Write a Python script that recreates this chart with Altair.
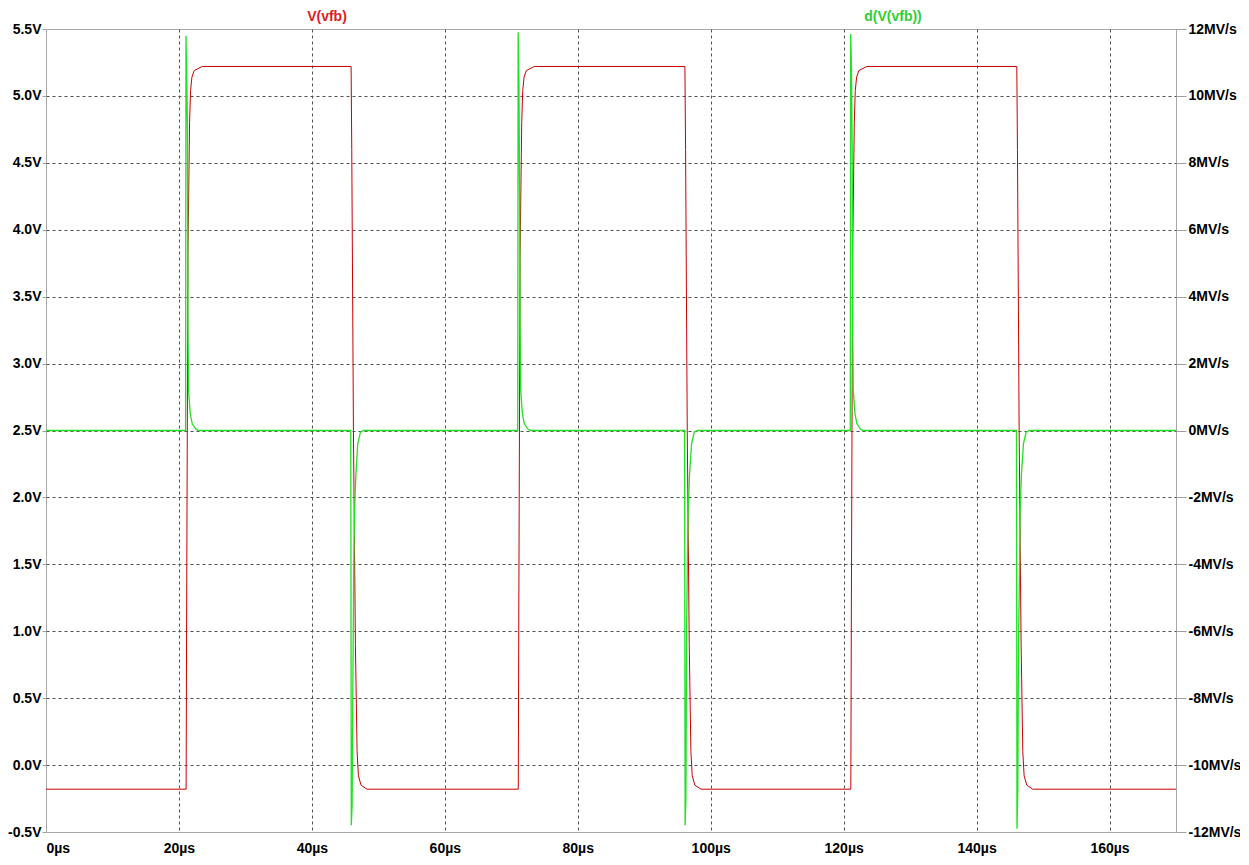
import altair as alt
import pandas as pd

# ---- data ----
red_t = [0.0,
         21.08, 21.15, 21.35, 21.60, 21.75, 21.95, 22.30, 23.50,
         45.90, 46.00, 46.25, 46.55, 46.80, 47.00, 47.40, 48.30,
         71.05, 71.12, 71.32, 71.57, 71.72, 71.92, 72.27, 73.47,
         96.12, 96.22, 96.47, 96.77, 97.02, 97.22, 97.62, 98.52,
         121.08, 121.15, 121.35, 121.60, 121.75, 121.95, 122.30, 123.50,
         146.05, 146.15, 146.40, 146.70, 146.95, 147.15, 147.55, 148.45,
         170.0]
red_v = [-0.18,
         -0.18, 1.0, 3.8, 4.8, 5.04, 5.14, 5.19, 5.22,
         5.22, 4.6, 2.5, 0.9, 0.1, -0.08, -0.15, -0.18,
         -0.18, 1.0, 3.8, 4.8, 5.04, 5.14, 5.19, 5.22,
         5.22, 4.6, 2.5, 0.9, 0.1, -0.08, -0.15, -0.18,
         -0.18, 1.0, 3.8, 4.8, 5.04, 5.14, 5.19, 5.22,
         5.22, 4.6, 2.5, 0.9, 0.1, -0.08, -0.15, -0.18,
         -0.18]

green_t = [0.0,
           21.00, 21.06, 21.18, 21.28, 21.36, 21.45, 21.70, 22.00, 22.50, 22.90,
           45.85, 45.93, 46.05, 46.15, 46.30, 46.40, 46.60, 46.90, 47.30, 47.80,
           70.97, 71.03, 71.15, 71.25, 71.33, 71.42, 71.67, 71.97, 72.47, 72.87,
           96.07, 96.15, 96.27, 96.37, 96.52, 96.62, 96.82, 97.12, 97.52, 98.02,
           121.00, 121.06, 121.18, 121.28, 121.36, 121.45, 121.70, 122.00, 122.50, 122.90,
           146.00, 146.08, 146.20, 146.30, 146.45, 146.55, 146.75, 147.05, 147.45, 147.95,
           170.0]
green_v = [0.0,
           0.0, 11.8, 10.5, 9.0, 3.0, 1.2, 0.5, 0.2, 0.05, 0.0,
           0.0, -11.8, -11.2, -8.0, -4.0, -2.5, -1.4, -0.4, -0.05, 0.0,
           0.0, 11.9, 10.4, 7.0, 3.0, 1.2, 0.5, 0.2, 0.05, 0.0,
           0.0, -11.8, -11.0, -6.0, -3.5, -2.3, -1.3, -0.4, -0.05, 0.0,
           0.0, 11.85, 10.8, 8.5, 3.0, 1.2, 0.5, 0.2, 0.05, 0.0,
           0.0, -11.9, -10.8, -6.5, -4.4, -2.4, -1.3, -0.4, -0.05, 0.0,
           0.0]

x_ticks = [0, 20, 40, 60, 80, 100, 120, 140, 160]
left_ticks = [-0.5, 0.0, 0.5, 1.0, 1.5, 2.0, 2.5, 3.0, 3.5, 4.0, 4.5, 5.0, 5.5]
right_ticks = [-12, -10, -8, -6, -4, -2, 0, 2, 4, 6, 8, 10, 12]

red_df = pd.DataFrame({"t": red_t, "v": red_v})
green_df = pd.DataFrame({"t": green_t, "d": green_v})

FONT = "Liberation Sans"
RED = "#c80000"
GREEN = "#22e022"

x_enc = alt.X(
    "t:Q",
    scale=alt.Scale(domain=[0, 170], nice=False, zero=False),
    axis=alt.Axis(
        values=x_ticks, title=None, labelExpr="datum.value + 'µs'",
        tickSize=0, labelPadding=9, domain=False,
        grid=True, gridDash=[3, 3], gridColor="#505050",
        gridOpacity={"condition": {"test": "datum.value == 0", "value": 0}, "value": 1},
    ),
)

red = alt.Chart(red_df).mark_line(color=RED, strokeWidth=1, clip=True).encode(
    x=x_enc,
    y=alt.Y(
        "v:Q",
        scale=alt.Scale(domain=[-0.5, 5.5], nice=False, zero=False),
        axis=alt.Axis(
            values=left_ticks, title=None, orient="left",
            labelExpr="(datum.value < 0 ? '-' : '') + format(abs(datum.value), '.1f') + 'V'",
            tickSize=4, tickColor="#a0a0a0", labelPadding=1, domain=False,
            grid=True, gridDash=[3, 3], gridColor="#505050",
            gridOpacity={"condition": {"test": "datum.value == 5.5 || datum.value == -0.5", "value": 0}, "value": 1},
        ),
    ),
)

green = alt.Chart(green_df).mark_line(color=GREEN, strokeWidth=1.3, clip=True).encode(
    x=alt.X("t:Q", scale=alt.Scale(domain=[0, 170], nice=False, zero=False)),
    y=alt.Y(
        "d:Q",
        scale=alt.Scale(domain=[-12, 12], nice=False, zero=False),
        axis=alt.Axis(
            values=right_ticks, title=None, orient="right",
            labelExpr="(datum.value < 0 ? '-' : '') + format(abs(datum.value), 'd') + 'MV/s'",
            tickSize=10, tickColor="#a0a0a0", labelPadding=2, domain=False, grid=False,
        ),
    ),
)

label_red = alt.Chart(pd.DataFrame({"name": ["V(vfb)"]})).mark_text(
    font=FONT, fontSize=14, fontWeight="bold", color="#dd1c1c", align="center", baseline="middle"
).encode(text="name:N", x=alt.value(281), y=alt.value(-12))

label_green = alt.Chart(pd.DataFrame({"name": ["d(V(vfb))"]})).mark_text(
    font=FONT, fontSize=14, fontWeight="bold", color="#2ed02e", align="center", baseline="middle"
).encode(text="name:N", x=alt.value(847), y=alt.value(-12))

chart = alt.layer(red, green, label_red, label_green).resolve_scale(
    y="independent"
).properties(
    width=1130, height=803,
    autosize=alt.AutoSizeParams(type="none"),
    padding={"left": 38, "top": 21, "right": 64, "bottom": 25},
    background="white",
).configure_view(
    stroke="#a8a8a8", strokeWidth=1
).configure_axis(
    labelFont=FONT, labelFontSize=14, labelFontWeight="bold", labelColor="#000000",
)

chart.save("out.html", embed_options={"renderer": "svg", "actions": False})
